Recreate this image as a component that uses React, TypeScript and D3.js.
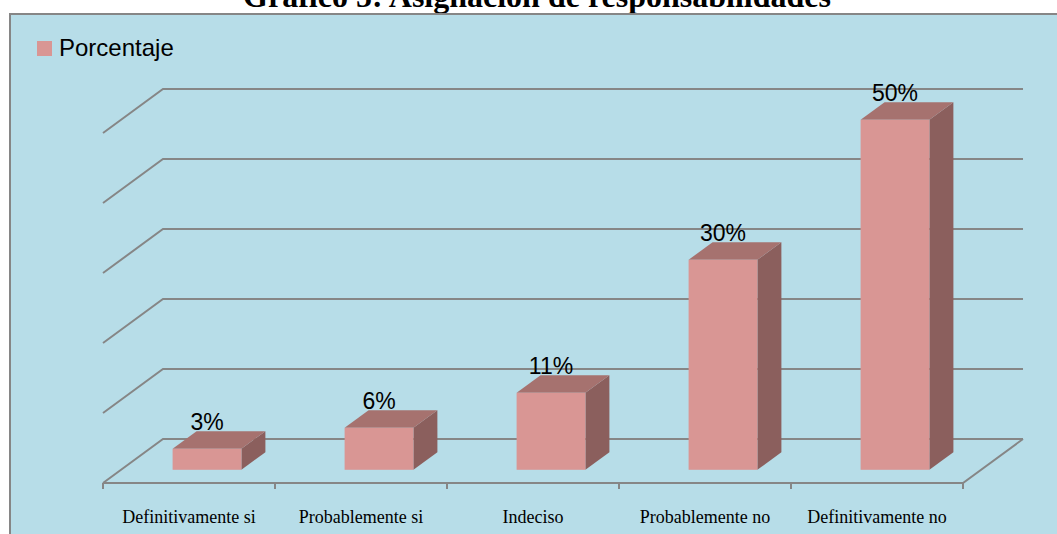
import React from "react";
import * as d3 from "d3";

const categories = [
  "Definitivamente si",
  "Probablemente si",
  "Indeciso",
  "Probablemente no",
  "Definitivamente no",
];
const values = [3, 6, 11, 30, 50];
const gridTicks = [0, 10, 20, 30, 40, 50];
const seriesName = "Porcentaje";
const title = "Gráfico 5: Asignación de responsabilidades";

const W = 1057;
const H = 534;
// front floor line and 3D depth offset
const x0 = 103;
const x1 = 963;
const floorY = 483;
const depthX = 60;
const depthY = -44;
// bars sit inside the depth
const barFront = 0.3;
const barDepth = 0.4;

const gridColor = "#868686";
const frontColor = "#d99694";
const topColor = "#a6726f";
const sideColor = "#8b5f5d";

export default function App() {
  const x = d3
    .scaleBand<string>()
    .domain(categories)
    .range([x0, x1])
    .paddingInner(0.6)
    .paddingOuter(0.3);
  const y = d3.scaleLinear().domain([0, 50]).range([0, 350]);

  const step = x.step();
  const tickXs = d3.range(categories.length + 1).map((i) => x0 + i * step);

  const fx = barFront * depthX;
  const fy = barFront * depthY;
  const bdx = barDepth * depthX;
  const bdy = barDepth * depthY;

  return (
    <svg
      width={W}
      height={H}
      style={{ position: "absolute", left: 0, top: 0 }}
    >
      <rect width={W} height={H} fill="#fff" />
      <text
        x={537}
        y={7}
        textAnchor="middle"
        fontFamily="'Liberation Serif', 'Times New Roman', serif"
        fontWeight="bold"
        fontSize={32}
      >
        {title}
      </text>
      <rect
        x={10}
        y={14}
        width={W + 20}
        height={H + 20}
        fill="#b7dde8"
        stroke={gridColor}
        strokeWidth={2}
      />

      {/* legend */}
      <rect x={37} y={41} width={15} height={15} fill={frontColor} />
      <text
        x={59}
        y={56}
        fontFamily="'Liberation Sans', Arial, sans-serif"
        fontSize={24}
      >
        {seriesName}
      </text>

      {/* walls / grid */}
      <g stroke={gridColor} strokeWidth={2} fill="none">
        {gridTicks.map((t) => {
          const yf = floorY - y(t);
          return (
            <path
              key={t}
              d={`M${x0},${yf}L${x0 + depthX},${yf + depthY}L${x1 + depthX},${yf + depthY}`}
            />
          );
        })}
        <path
          d={`M${x0},${floorY}L${x1},${floorY}L${x1 + depthX},${floorY + depthY}`}
        />
        {tickXs.map((tx, i) => (
          <line key={i} x1={tx} x2={tx} y1={floorY} y2={floorY + 6} />
        ))}
      </g>

      {/* bars */}
      {values.map((v, i) => {
        const bx = (x(categories[i]) ?? 0) + fx;
        const bw = x.bandwidth();
        const by = floorY + fy;
        const h = y(v);
        const top = by - h;
        return (
          <g key={categories[i]}>
            <path
              d={`M${bx + bw},${by}L${bx + bw + bdx},${by + bdy}L${bx + bw + bdx},${top + bdy}L${bx + bw},${top}Z`}
              fill={sideColor}
            />
            <path
              d={`M${bx},${top}L${bx + bdx},${top + bdy}L${bx + bw + bdx},${top + bdy}L${bx + bw},${top}Z`}
              fill={topColor}
            />
            <rect x={bx} y={top} width={bw} height={h} fill={frontColor} />
            <text
              x={bx + bw / 2}
              y={top + bdy - 1}
              textAnchor="middle"
              fontFamily="'Liberation Sans', Arial, sans-serif"
              fontSize={23}
            >
              {v}%
            </text>
          </g>
        );
      })}

      {/* category labels */}
      {categories.map((c) => (
        <text
          key={c}
          x={(x(c) ?? 0) + x.bandwidth() / 2}
          y={523}
          textAnchor="middle"
          fontFamily="'Liberation Serif', 'Times New Roman', serif"
          fontSize={18}
        >
          {c}
        </text>
      ))}
    </svg>
  );
}
